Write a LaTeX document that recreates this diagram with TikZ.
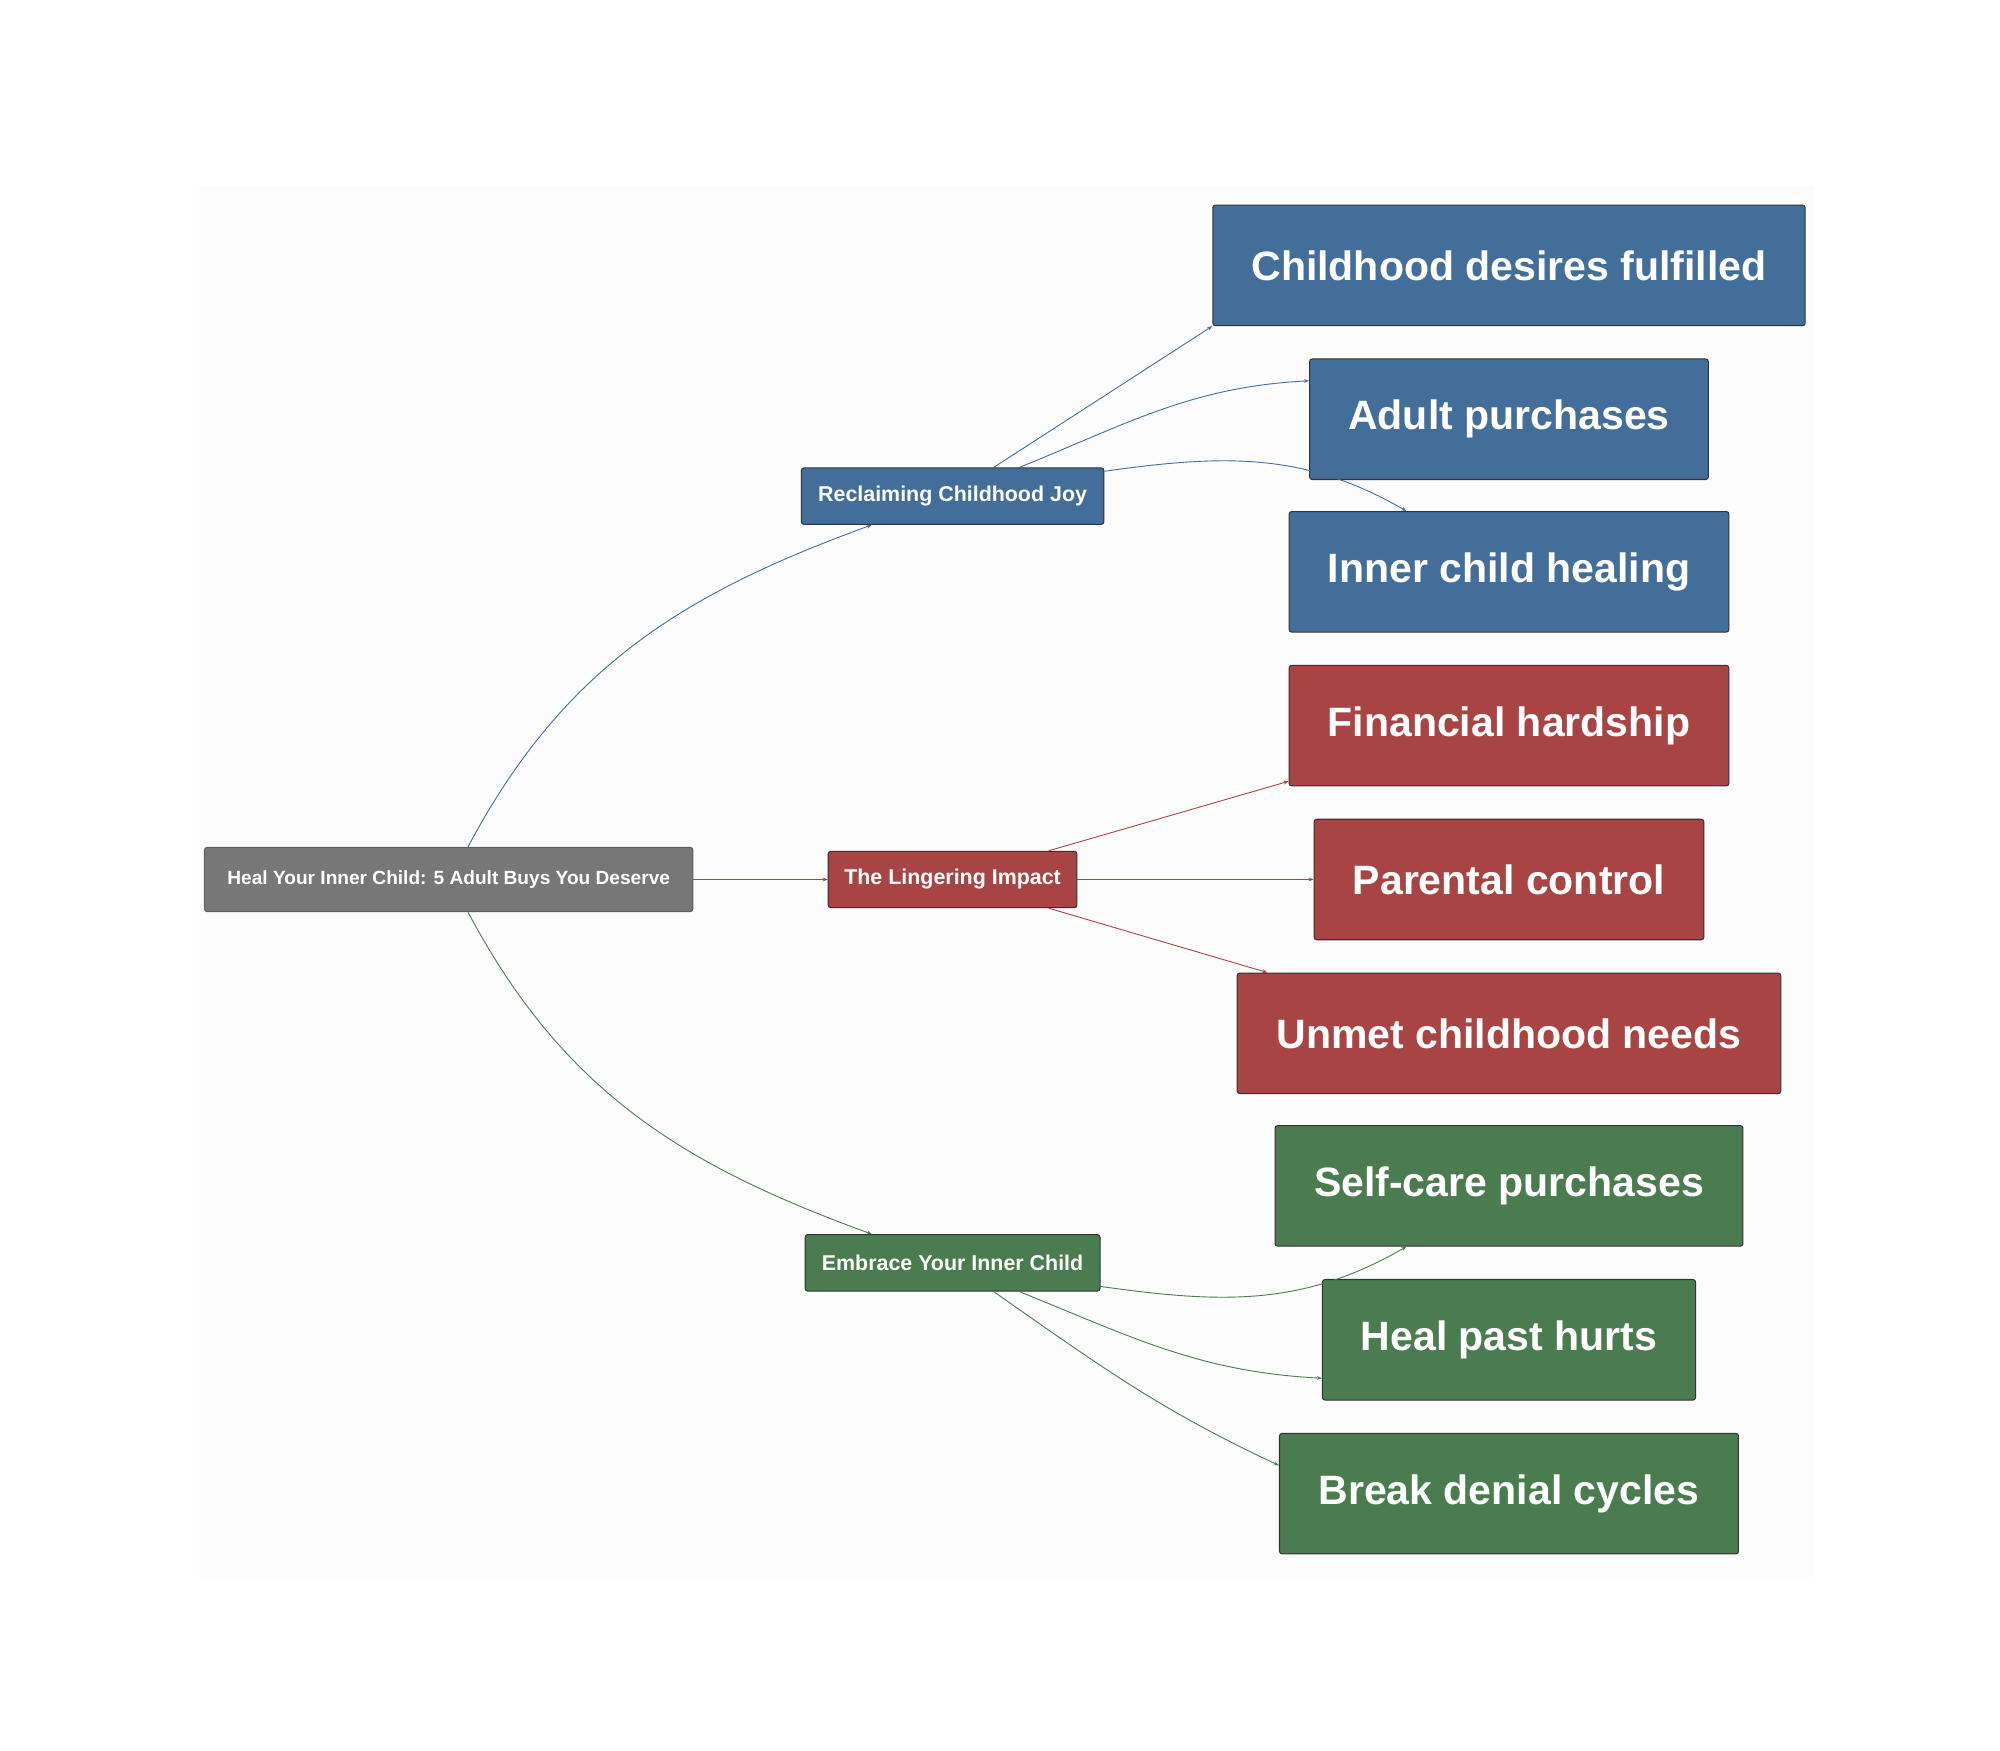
\documentclass[tikz,border=0pt]{standalone}
\usepackage{fontspec}
\setmainfont{Liberation Sans}
\usetikzlibrary{arrows.meta}
\definecolor{rootgray}{HTML}{777777}
\definecolor{joyblue}{HTML}{446E9A}
\definecolor{hurtred}{HTML}{A94444}
\definecolor{healgreen}{HTML}{4A7C4F}
\tikzset{
  box/.style={draw=black!80,line width=0.8pt,rounded corners=2pt,text=white,font=\bfseries,inner sep=0pt,anchor=center},
  rootbox/.style={box,fill=rootgray,draw=rootgray!80!black,minimum width=381,minimum height=50,font=\bfseries\fontsize{14.9}{17}\selectfont},
  midbox/.style={box,minimum height=44,font=\bfseries\fontsize{16.7}{19}\selectfont},
  leafbox/.style={box,minimum height=94,font=\bfseries\fontsize{32}{36}\selectfont},
  link/.style={line width=0.7pt,-{Stealth[length=4pt,width=3pt]}},
}
\begin{document}
\begin{tikzpicture}[x=1pt,y=-1pt]
\useasboundingbox (0,0) rectangle (1560,1365);
\fill[black!1] (155,145) rectangle (1415,1230);

% root and branches
\node[rootbox] (root) at (350,686) {Heal Your Inner Child: 5 Adult Buys You Deserve};
\node[midbox,fill=joyblue,minimum width=236] (joy) at (743,387) {Reclaiming Childhood Joy};
\node[midbox,fill=hurtred,minimum width=194] (impact) at (743,686) {The Lingering Impact};
\node[midbox,fill=healgreen,minimum width=230] (embrace) at (743,985) {Embrace Your Inner Child};

% leaves
\node[leafbox,fill=joyblue,minimum width=462] (desires) at (1177,207) {Childhood desires fulfilled};
\node[leafbox,fill=joyblue,minimum width=311] (adult) at (1177,327) {Adult purchases};
\node[leafbox,fill=joyblue,minimum width=343] (inner) at (1177,446) {Inner child healing};
\node[leafbox,fill=hurtred,minimum width=343] (hardship) at (1177,566) {Financial hardship};
\node[leafbox,fill=hurtred,minimum width=304] (control) at (1177,686) {Parental control};
\node[leafbox,fill=hurtred,minimum width=424] (unmet) at (1177,806) {Unmet childhood needs};
\node[leafbox,fill=healgreen,minimum width=365] (selfcare) at (1177,925) {Self-care purchases};
\node[leafbox,fill=healgreen,minimum width=291] (hurts) at (1177,1045) {Heal past hurts};
\node[leafbox,fill=healgreen,minimum width=358] (denial) at (1177,1165) {Break denial cycles};

% connectors
\draw[link,joyblue] ([xshift=15]root.north) to[out=62,in=200] ([xshift=-63]joy.south);
\draw[link,hurtred] (root.east) -- (impact.west);
\draw[link,healgreen] ([xshift=15]root.south) to[out=-62,in=160] ([xshift=-63]embrace.north);

\draw[link,joyblue] ([xshift=32]joy.north) -- (desires.south west);
\draw[link,joyblue] ([xshift=52]joy.north) to[out=22,in=183] ([yshift=30]adult.west);
\draw[link,joyblue] ([yshift=-3]joy.north east) to[out=8,in=150] ([xshift=-80]inner.north);

\draw[link,hurtred] ([xshift=75]impact.north) -- ([yshift=4]hardship.south west);
\draw[link,hurtred] (impact.east) -- (control.west);
\draw[link,hurtred] ([xshift=75]impact.south) -- ([xshift=24]unmet.north west);

\draw[link,healgreen] ([yshift=4]embrace.south east) to[out=-8,in=210] ([xshift=-80]selfcare.south);
\draw[link,healgreen] ([xshift=52]embrace.south) to[out=-22,in=177] ([yshift=-30]hurts.west);
\draw[link,healgreen] ([xshift=32]embrace.south) to[out=-35,in=155] ([yshift=22]denial.west);
\end{tikzpicture}
\end{document}
